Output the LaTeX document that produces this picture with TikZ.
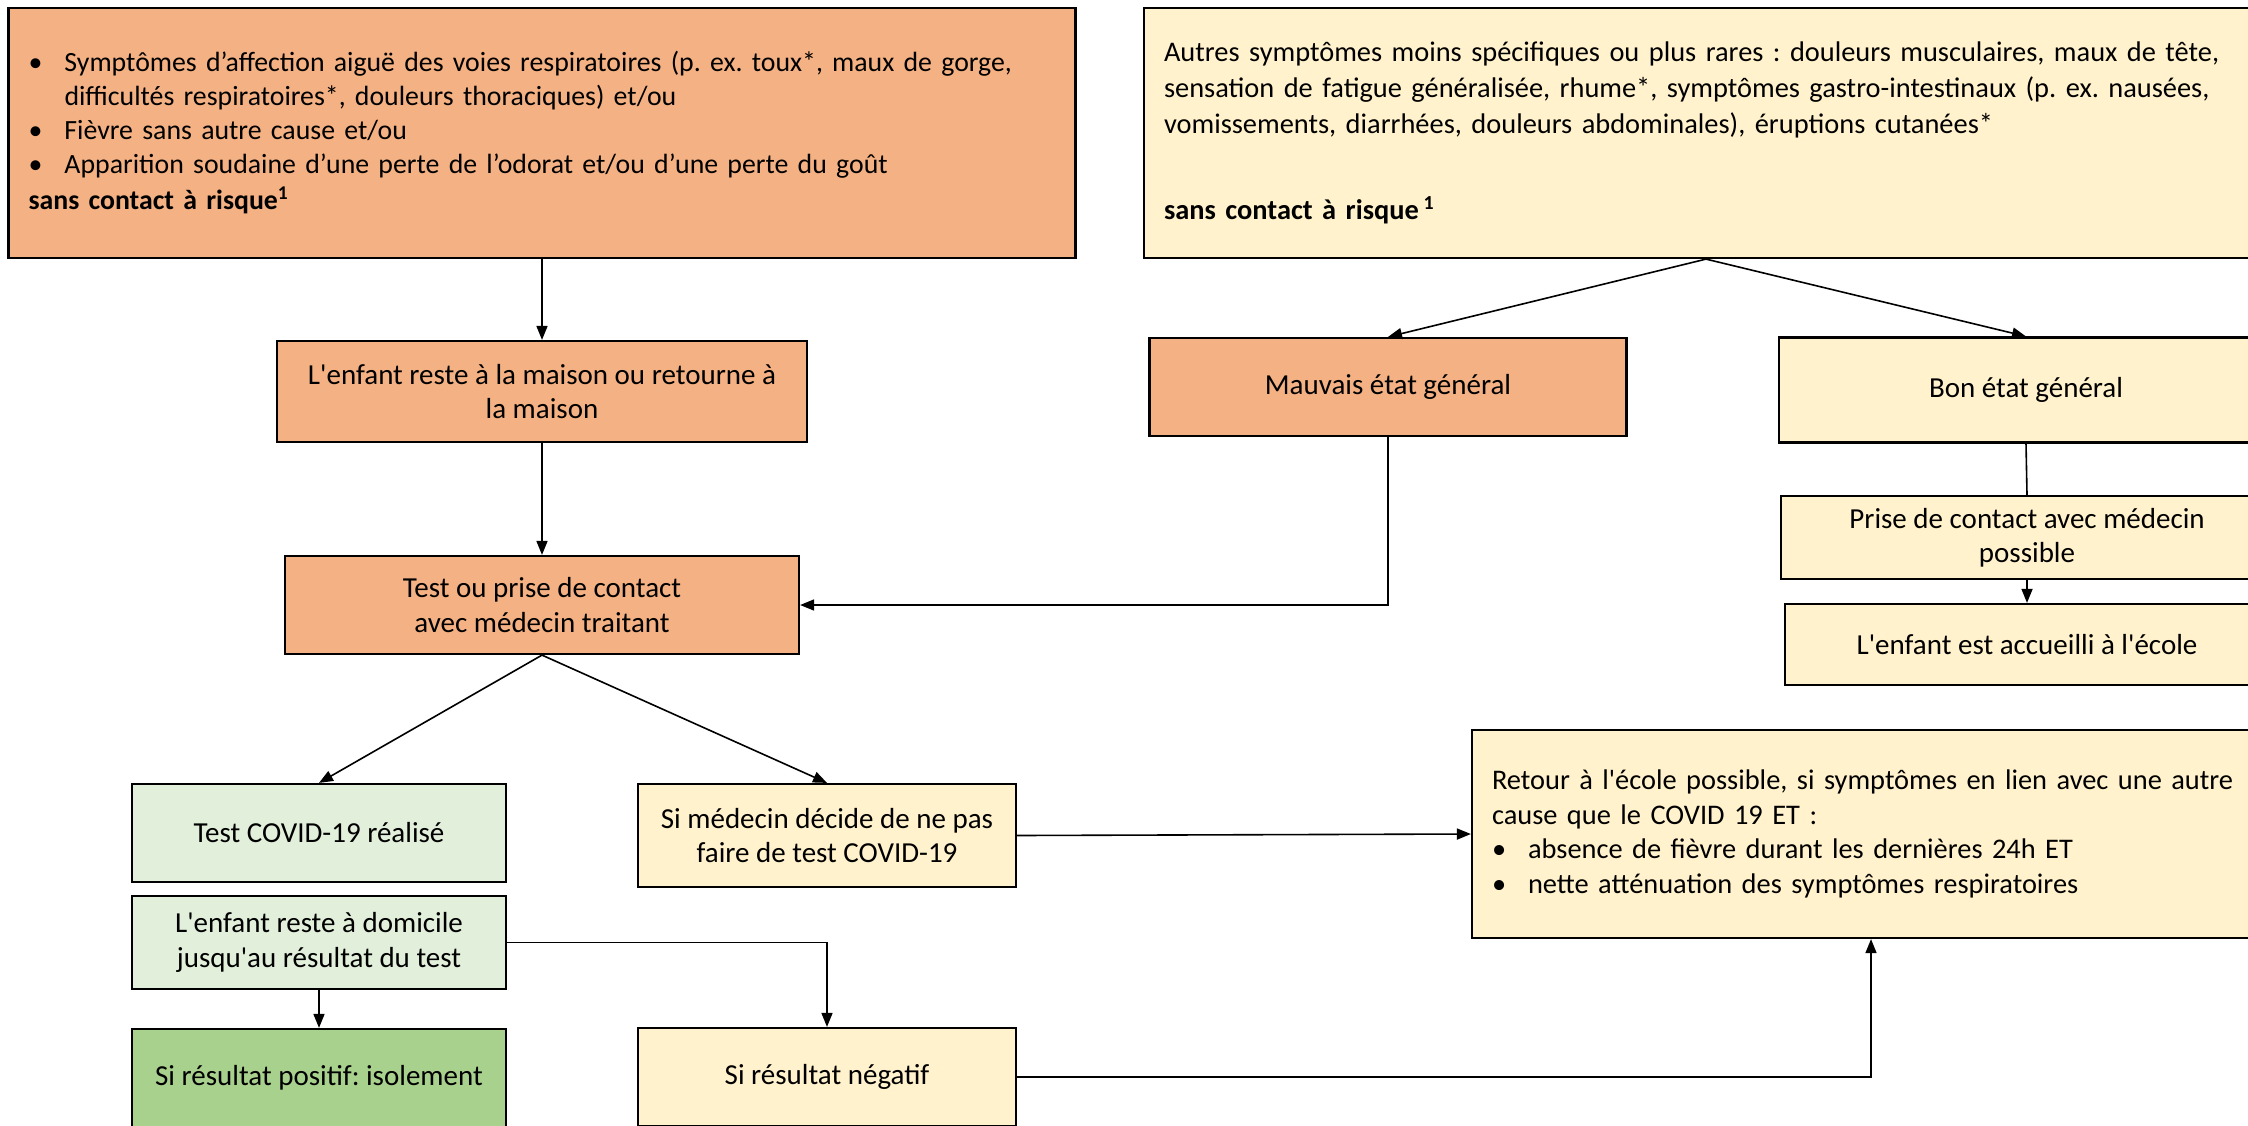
\documentclass[tikz,border=0pt]{standalone}
\usepackage{fontspec}
\setmainfont{Carlito}[Ligatures=TeXOff]
\usetikzlibrary{arrows.meta, positioning}

\definecolor{orangeclair}{HTML}{F4B183}
\definecolor{creme}{HTML}{FFF2CC}
\definecolor{vertclair}{HTML}{E2EFDA}
\definecolor{vert}{HTML}{A9D18E}

\newcommand{\puce}{\makebox[18pt][l]{•}}
\newcommand{\retrait}{\hspace*{18pt}}

\tikzset{
  boite/.style={draw=black, line width=1.1pt, inner sep=0pt, align=center,
    font=\fontsize{14.5}{17.2}\selectfont\frenchspacing},
  boitetexte/.style={boite, align=left, inner xsep=10pt, text width=#1},
  taille/.style 2 args={minimum width=#1*0.5pt, minimum height=#2*0.5pt},
  lien/.style={line width=0.8pt}
}

\begin{document}
\begin{tikzpicture}[>={Triangle[length=7pt,width=5.5pt]}, x=0.5pt, y=-0.5pt]
					\clip (0,0) rectangle (2248,1125);
					
					% Symptom boxes on top
					\node (sympt) [boitetexte=513.5pt, fill=orangeclair, taille={1067}{250}, font=\fontsize{13.9}{17}\selectfont\frenchspacing] at (542,133) {%
						\puce Symptômes d’affection aiguë des voies respiratoires (p. ex. toux*, maux de gorge,\\
						\retrait difficultés respiratoires*, douleurs thoraciques) et/ou\\
						\puce Fièvre sans autre cause et/ou\\
						\puce Apparition soudaine d’une perte de l’odorat et/ou d’une perte du goût\\[1pt]
						\textbf{sans contact à risque\textsuperscript{1}}};
					\node (autres) [boitetexte=542pt, fill=creme, taille={1124}{250}, font=\fontsize{14.2}{18}\selectfont\frenchspacing] at (1706,133) {%
						Autres symptômes moins spécifiques ou plus rares : douleurs musculaires, maux de tête,\\
						sensation de fatigue généralisée, rhume*, symptômes gastro-intestinaux (p. ex. nausées,\\
						vomissements, diarrhées, douleurs abdominales), éruptions cutanées*\\[25pt]
						\textbf{sans contact à risque\,\textsuperscript{1}}};
					
					% Left branch
					\node (maison) [boite, fill=orangeclair, taille={530}{101}] at (542,391.5) {L'enfant reste à la maison ou retourne à\\la maison};
					\node (test) [boite, fill=orangeclair, taille={514}{98}] at (542,605) {Test ou prise de contact\\avec médecin traitant};
					
					% Right branch
					\node (mauvais) [boite, fill=orangeclair, taille={477}{98}] at (1388,387) {Mauvais état général};
					\node (bon) [boite, fill=creme, taille={494}{105}] at (2026,390) {Bon état général};
					\node (contact) [boite, fill=creme, taille={492}{83}] at (2027,537.5) {Prise de contact avec médecin\\possible};
					\node (accueil) [boite, fill=creme, taille={484}{81}] at (2027,644.5) {L'enfant est accueilli à l'école};
					
					% Test results
					\node (covid) [boite, fill=vertclair, taille={374}{98}] at (319,833) {Test COVID-19 réalisé};
					\node (domicile) [boite, fill=vertclair, taille={374}{93}] at (319,942.5) {L'enfant reste à domicile\\jusqu'au résultat du test};
					\node (positif) [boite, fill=vert, taille={374}{98}] at (319,1078) {Si résultat positif: isolement};
					\node (pastest) [boite, fill=creme, taille={378}{103}] at (827,835.5) {Si médecin décide de ne pas\\faire de test COVID-19};
					\node (negatif) [boite, fill=creme, taille={378}{98}] at (827,1077) {Si résultat négatif};
					
					% Return to school
					\node (retour) [boitetexte=379pt, fill=creme, taille={798}{208}, font=\fontsize{14.2}{17.2}\selectfont\frenchspacing] at (1871,834) {%
						Retour à l'école possible, si symptômes en lien avec une autre\\
						cause que le COVID 19 ET :\\
						\puce absence de fièvre durant les dernières 24h ET\\
						\puce nette atténuation des symptômes respiratoires};
					
					% Arrows
					\draw[->, lien] (sympt.south) -- (maison.north);
					\draw[->, lien] (maison.south) -- (test.north);
					\draw[->, lien] (autres.south) -- (mauvais.north);
					\draw[->, lien] (autres.south) -- (bon.north);
					\draw[->, lien] (mauvais.south) |- (test.east);
					\draw[lien] (bon.south) -- (contact.north);
					\draw[->, lien] (contact.south) -- (accueil.north);
					\draw[->, lien] (test.south) -- (covid.north);
					\draw[->, lien] (test.south) -- (pastest.north);
					\draw[->, lien] (pastest.east) -- (retour.west);
					\draw[->, lien] (domicile.east) -| (negatif.north);
					\draw[->, lien] (domicile.south) -- (positif.north);
					\draw[->, lien] (negatif.east) -| (retour.south);
				\end{tikzpicture}
\end{document}
